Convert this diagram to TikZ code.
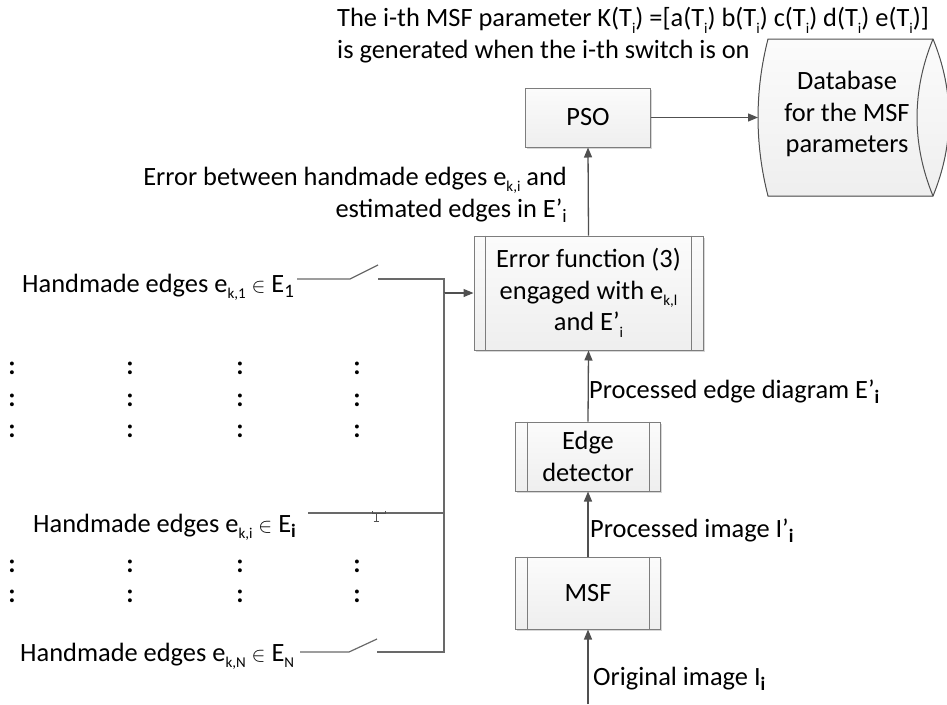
\documentclass[tikz,border=0pt]{standalone}
\usepackage{fontspec}
\setmainfont{Carlito}
\usetikzlibrary{arrows.meta,shadows}

\definecolor{linegray}{RGB}{80,80,80}
\definecolor{wiregray}{RGB}{105,105,105}
\definecolor{boxedge}{RGB}{125,125,125}

% small subscript, larger lowered index, bold lowered index
\newcommand\sbs[1]{\raisebox{-0.24em}{\fontsize{15}{15}\selectfont #1}}
\newcommand\sbl[1]{\raisebox{-0.22em}{\fontsize{19}{19}\selectfont #1}}
\newcommand\sbb[1]{\raisebox{-0.22em}{\fontsize{19}{19}\selectfont\bfseries #1}}
\newcommand\elem{{\fontsize{22}{22}\selectfont$\in$}}

\tikzset{
  txt/.style={font=\fontsize{26.4}{31.5}\selectfont, inner sep=0pt, text=black},
  blk/.style={txt, draw=boxedge, line width=1pt, top color=gray!3, bottom color=gray!13,
    drop shadow={shadow xshift=1.5pt, shadow yshift=-1.5pt, fill=gray!45, opacity=0.7}},
  inner/.style={draw=boxedge, line width=1pt},
  arr/.style={draw=linegray, line width=1.3pt, -{Triangle[length=10pt,width=8pt]}},
  wire/.style={draw=wiregray, line width=1.2pt},
  colon/.style={txt, font=\fontsize{26.4}{31.5}\selectfont\bfseries}
}

\begin{document}
\begin{tikzpicture}[x=1pt,y=-1pt]
\useasboundingbox (0,0) rectangle (947,704);

% annotation at the top
\node[txt,anchor=base west] (top1) at (337,27) {The i-th MSF parameter K(T\sbs{i}) =[a(T\sbs{i}) b(T\sbs{i}) c(T\sbs{i}) d(T\sbs{i}) e(T\sbs{i})]};
\node[txt,anchor=base west] (top2) at (337,58) {is generated when the i-th switch is on};

% processing chain
\node[blk,minimum width=125pt,minimum height=59pt] (pso) at (588,117.5) {PSO};
\node[blk,minimum width=229pt,minimum height=114pt,align=center] (err) at (588.5,293)
  {Error function (3)\\engaged with e\sbs{k,l}\\and E’\sbs{i}};
\node[blk,minimum width=145pt,minimum height=69pt,align=center] (edge) at (588,456.5) {Edge\\detector};
\node[blk,minimum width=145pt,minimum height=72pt] (msf) at (588,593) {MSF};

% inner bars of the sub-process boxes
\foreach \b in {err,edge,msf}{
  \draw[inner] ([xshift=12pt]\b.north west) -- ([xshift=12pt]\b.south west);
  \draw[inner] ([xshift=-12pt]\b.north east) -- ([xshift=-12pt]\b.south east);
}

% database (stored data shape)
\fill[top color=gray!3, bottom color=gray!13, draw=linegray, line width=1pt]
  (768,39) -- (933,39) .. controls (954.3,91) and (954.3,144) .. (933,196)
  -- (768,196) .. controls (754.7,144) and (754.7,91) .. (768,39) -- cycle;
\draw[draw=linegray, line width=1pt] (933,39) .. controls (911.7,91) and (911.7,144) .. (933,196);
\node[txt,align=center] (db) at (847,114) {Database\\for the MSF\\parameters};
\coordinate (dbin) at (758,117.5);

% vertical flow
\coordinate (src) at (588,704);
\draw[arr] (src) -- (msf.south);
\draw[arr] (msf.north) -- (edge.south);
\draw[arr] (edge.north) -- (err.south);
\draw[arr] (err.north) -- (pso.south);
\draw[arr] (pso.east) -- (dbin);

% labels of the flow
\node[txt,anchor=base east] (err1) at (567,185) {Error between handmade edges e\sbs{k,i} and};
\node[txt,anchor=base east] (err2) at (567,217) {estimated edges in E’\sbl{i}};
\node[txt,anchor=base west] (lbE) at (589,398) {Processed edge diagram E’\sbb{i}};
\node[txt,anchor=base west] (lbI) at (590,537) {Processed image I’\sbb{i}};
\node[txt,anchor=base west] (lbO) at (593,685) {Original image I\sbb{i}};

% handmade edge inputs
\node[txt,anchor=base west] (h1) at (22,292) {Handmade edges e\sbs{k,1} \elem{} E\sbl{1}};
\node[txt,anchor=base west] (hi) at (33,532) {Handmade edges e\sbs{k,i} \elem{} E\sbb{i}};
\node[txt,anchor=base west] (hN) at (20,661.5) {Handmade edges e\sbs{k,N} \elem{} E\sbs{N}};

% switches and bus
\coordinate (s1a) at (297,279); \coordinate (s1p) at (350,279);
\coordinate (s1q) at (378,265); \coordinate (s1r) at (378,279);
\coordinate (sNa) at (300,652); \coordinate (sNp) at (349,652);
\coordinate (sNq) at (377,639); \coordinate (sNr) at (377,652);
\coordinate (sia) at (308,513); \coordinate (sib) at (444,513);
\coordinate (busj) at (444,293);

\draw[wire] (s1a) -- (s1p) -- (s1q);
\draw[wire] (s1r) -| (busj);
\draw[arr, line width=1.2pt] (busj) -- (err.west);
\draw[wire] (sNa) -- (sNp) -- (sNq);
\draw[wire] (sNr) -| (busj);
\draw[wire] (sia) -- (sib);
% closed switch mark
\draw[linegray, line width=0.8pt] (372,511) -- (372,513.5) -- (385,513.5) -- (385,511);
\draw[linegray, line width=0.7pt] (376,513.5) -- (376,521) (373.5,521) -- (378.5,521);

% ellipsis colons
\foreach \x [count=\i] in {12,130,240,357}{
  \foreach \y [count=\j] in {368.7,400,431,566.7,596.7}{
    \node[colon] (dot\i-\j) at (\x,\y) {:};
  }
}
\end{tikzpicture}
\end{document}
